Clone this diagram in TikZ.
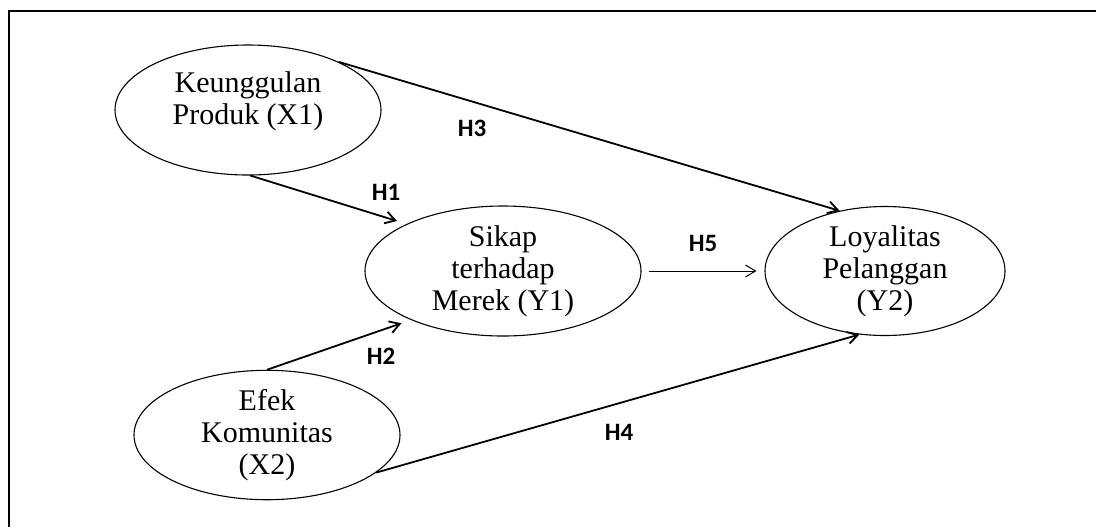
\documentclass[tikz,border=0pt]{standalone}
\usepackage{fontspec}
\setmainfont{Liberation Serif}
\newfontfamily\hypfont{Carlito}
\usetikzlibrary{arrows.meta,shapes.geometric}

\begin{document}
\begin{tikzpicture}[x=0.5pt,y=-0.5pt,
var/.style={ellipse,draw,line width=0.55pt,inner sep=0pt,align=center,
font=\fontsize{15}{16}\selectfont},
link/.style={-{Straight Barb[length=5pt,width=6pt]},line width=0.9pt},
hyp/.style={font=\hypfont\bfseries\fontsize{12.5}{13}\selectfont}]
\useasboundingbox (0,0) rectangle (1096,527);
\draw[line width=1pt] (1096,11) -- (9,11) -- (9,527);

\node[var,minimum width=133pt,minimum height=65pt] (x1) at (248,110)
{Keunggulan\\Produk (X1)\\[-4pt]};
\node[var,minimum width=138pt,minimum height=65pt] (y1) at (503,271)
{Sikap\\terhadap\\Merek (Y1)};
\node[var,minimum width=120pt,minimum height=64pt] (y2) at (885,271)
{Loyalitas\\Pelanggan\\(Y2)};
\node[var,minimum width=133pt,minimum height=62pt] (x2) at (267,435)
{Efek\\Komunitas\\(X2)};

\draw[link] (x1.28) -- (y2.127);
\draw[link,shorten >=5pt] (x1.-88) -- (y1.154);
\draw[link,line width=0.5pt,shorten <=3.5pt,shorten >=4pt] (y1.east) -- (y2.west);
\draw[link,shorten >=5pt] (x2.north) -- (y1.208);
\draw[link] (x2.-19) -- (y2.248);

\node[hyp] (h1) at (386,192) {H1};
\node[hyp] (h2) at (381,356) {H2};
\node[hyp] (h3) at (472,128) {H3};
\node[hyp] (h4) at (619,432) {H4};
\node[hyp] (h5) at (703,243) {H5};
\end{tikzpicture}
\end{document}
